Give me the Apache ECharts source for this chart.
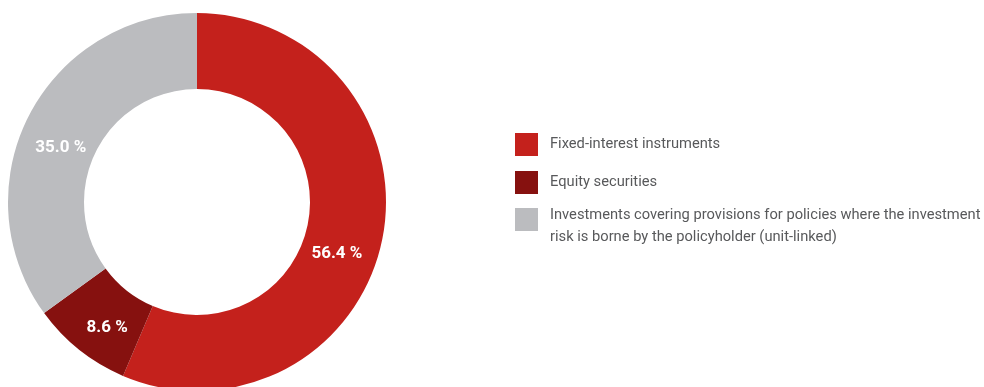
<!DOCTYPE html>
<html>
<head>
<meta charset="utf-8">
<script src="https://cdn.jsdelivr.net/npm/echarts@6/dist/echarts.min.js"></script>
<style>
  html, body { margin: 0; padding: 0; background: #ffffff; }
  #chart { width: 984px; height: 387px; }
</style>
</head>
<body>
<div id="chart"></div>
<script>
// Portfolio breakdown by investment type (shares in %)
const categories = [
  'Fixed-interest instruments',
  'Equity securities',
  'Investments covering provisions for policies where the investment\nrisk is borne by the policyholder (unit-linked)'
];
const shares = [56.4, 8.6, 35.0];
const colors = ['#c4211c', '#86110f', '#bbbcbf'];
// nudges for the value labels inside the ring
const labelOffsets = [[-11, 21], [6, 5], [1, 16]];

const FONT = 'Roboto, "Liberation Sans", sans-serif';

const legendText = {
  fontFamily: FONT,
  fontSize: 14.7,
  color: '#58595b',
  lineHeight: 22,
  padding: [0, 0, 0, 7]
};

const chart = echarts.init(document.getElementById('chart'), null, { renderer: 'canvas' });

chart.setOption({
  backgroundColor: '#ffffff',
  animation: false,
  legend: [
    {
      // single-line entries
      orient: 'vertical',
      left: 515,
      top: 133,
      padding: 0,
      itemWidth: 23,
      itemHeight: 23,
      itemGap: 15,
      icon: 'rect',
      selectedMode: false,
      textStyle: legendText,
      data: categories.slice(0, 2)
    },
    {
      // two-line entry: swatch sits at the top of a taller icon box,
      // so the wrapped text hangs below the swatch's centre
      orient: 'vertical',
      left: 515,
      top: 204.5,
      padding: 0,
      itemWidth: 23,
      itemHeight: 37,
      icon: 'path://M0,0H23V23H0Z M0,37H0.01V37.01H0Z',
      selectedMode: false,
      textStyle: legendText,
      data: categories.slice(2)
    }
  ],
  series: [{
    type: 'pie',
    center: [197, 202],
    radius: [113, 189],
    startAngle: 90,
    clockwise: true,
    avoidLabelOverlap: false,
    emphasis: { disabled: true },
    label: {
      show: true,
      position: 'inside',
      fontFamily: FONT,
      fontWeight: 'bold',
      fontSize: 17,
      color: '#ffffff',
      formatter: p => p.value.toFixed(1) + ' %'
    },
    labelLine: { show: false },
    data: categories.map((name, i) => ({
      name,
      value: shares[i],
      itemStyle: { color: colors[i] },
      label: { offset: labelOffsets[i] }
    }))
  }]
});
</script>
</body>
</html>
